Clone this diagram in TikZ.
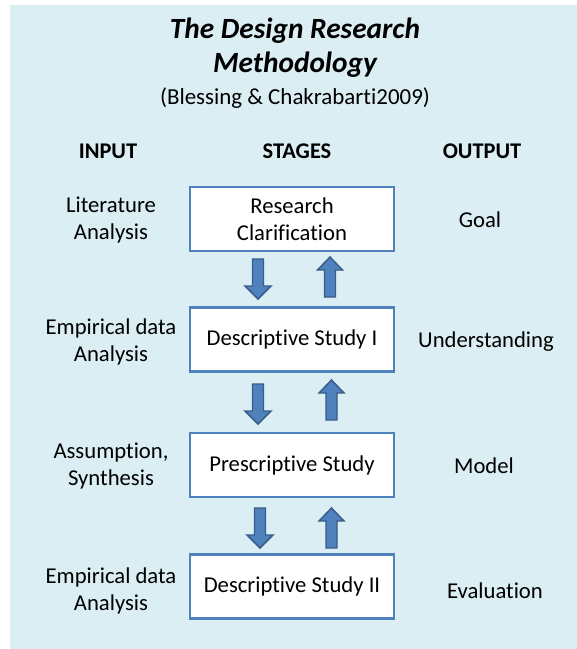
\documentclass[tikz,border=0pt]{standalone}
\usepackage{fontspec}
\setmainfont[Ligatures=NoCommon]{Carlito}
\usetikzlibrary{calc}
\definecolor{bgblue}{HTML}{DAEEF3}
\definecolor{boxblue}{HTML}{4F81BD}
\definecolor{arrdark}{HTML}{385D8A}
\tikzset{
  stagebox/.style={draw=boxblue, line width=2.6pt*0.75, fill=white, minimum width=204*0.75pt, minimum height=64*0.75pt, inner sep=0pt, align=center, font=\fontsize{17}{20.25}\selectfont},
  lbl/.style={align=center, inner sep=0pt, font=\fontsize{17}{20.25}\selectfont},
  hdr/.style={inner sep=0pt, font=\fontsize{16.8}{20}\selectfont\bfseries},
  blockarr/.style={fill=boxblue, draw=arrdark, line width=1.1pt},
  downarr/.pic={\path[blockarr] (-5.5,0) -- (5.5,0) -- (5.5,27) -- (13,27) -- (0,40) -- (-13,27) -- (-5.5,27) -- cycle;},
  uparr/.pic={\path[blockarr] (-5.5,0) -- (5.5,0) -- (5.5,-27) -- (12.5,-27) -- (0,-40) -- (-12.5,-27) -- (-5.5,-27) -- cycle;}
}
\begin{document}
\begin{tikzpicture}[x=0.75pt,y=-0.75pt]
\useasboundingbox (0,0) rectangle (577,649);
\fill[bgblue] (10,5) rectangle (577,649);
% title
\node[inner sep=0pt, font=\fontsize{22}{26}\selectfont\bfseries\itshape] (t1) at (295,31) {The Design Research};
\node[inner sep=0pt, font=\fontsize{22}{26}\selectfont\bfseries\itshape] (t2) at (295,65) {Methodology};
\node[inner sep=0pt, font=\fontsize{17.2}{20}\selectfont] (t3) at (295,98) {(Blessing \& Chakrabarti2009)};
% headers
\node[hdr] (hin) at (108,151) {INPUT};
\node[hdr] (hst) at (297,151) {STAGES};
\node[hdr] (hout) at (482,151) {OUTPUT};
% stages
\node[stagebox] (s1) at (292,219) {Research\\Clarification};
\node[stagebox] (s2) at (292,339.5) {Descriptive Study I};
\node[stagebox] (s3) at (292,465) {Prescriptive Study};
\node[stagebox] (s4) at (292,586.5) {Descriptive Study II};
% inputs
\node[lbl] (in1) at (111,220) {Literature\\Analysis};
\node[lbl] (in2) at (111,342) {Empirical data\\Analysis};
\node[lbl] (in3) at (111,466) {Assumption,\\Synthesis};
\node[lbl] (in4) at (111,591) {Empirical data\\Analysis};
% outputs
\node[lbl] (out1) at (480,220) {Goal};
\node[lbl] (out2) at (486,342) {Understanding};
\node[lbl] (out3) at (484,466) {Model};
\node[lbl] (out4) at (495,591) {Evaluation};
% block arrows
\pic at (258,259) {downarr};
\pic at (330,297) {uparr};
\pic at (258,384) {downarr};
\pic at (331.5,420) {uparr};
\pic at (260,508) {downarr};
\pic at (331.5,548) {uparr};
\end{tikzpicture}
\end{document}
